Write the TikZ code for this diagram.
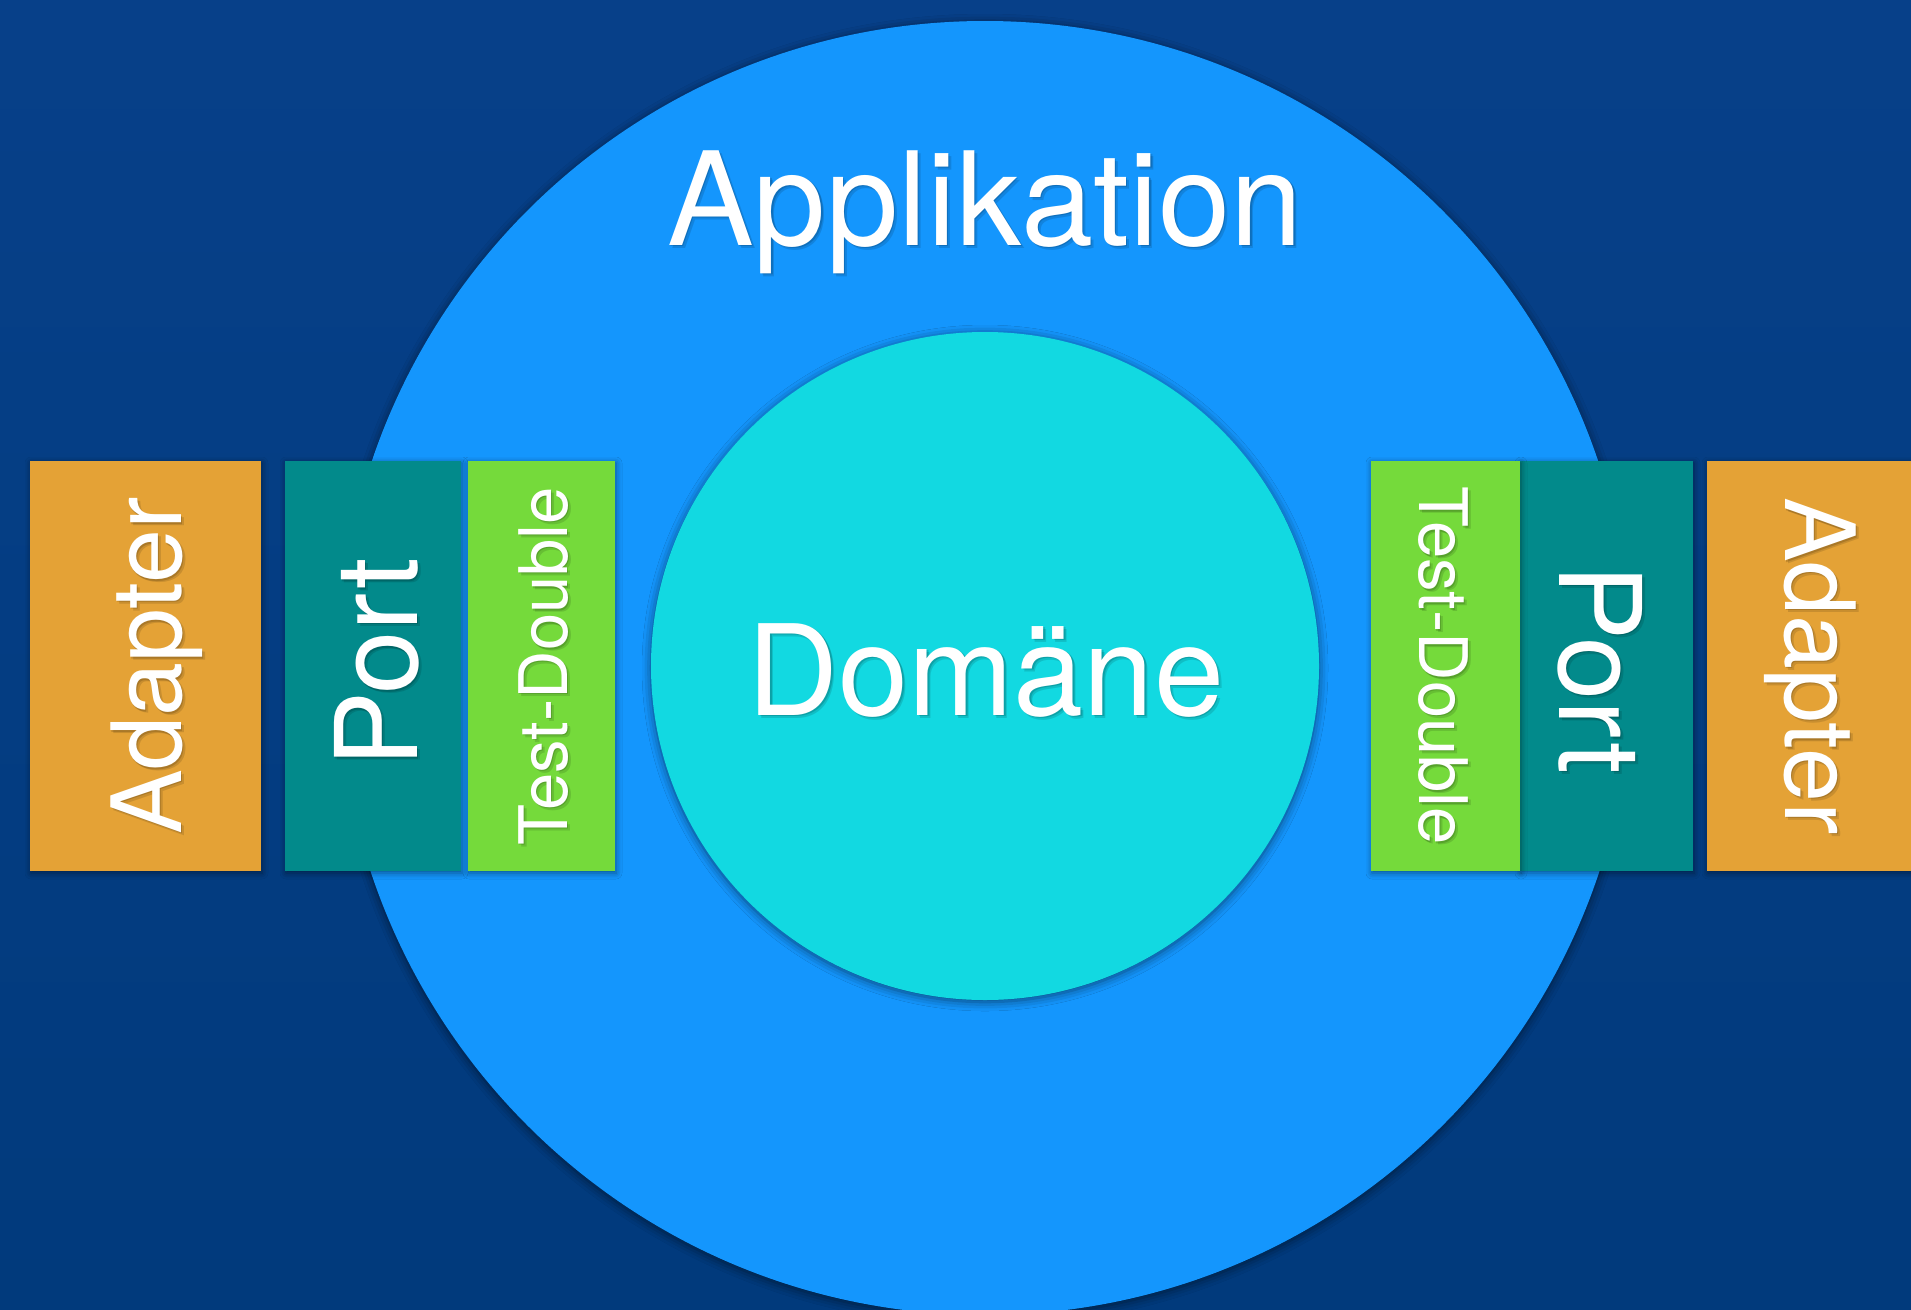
\documentclass[tikz,border=0pt]{standalone}
\usepackage{fontspec}
\setmainfont{TeX Gyre Heros}
\usetikzlibrary{positioning,calc,shadows.blur}

\definecolor{bgtop}{HTML}{074089}
\definecolor{bgbot}{HTML}{013A7C}
\definecolor{appblue}{HTML}{1496FD}
\definecolor{domcyan}{HTML}{12D9E1}
\definecolor{adapterorange}{HTML}{E4A236}
\definecolor{portteal}{HTML}{028A8B}
\definecolor{testgreen}{HTML}{75DA3B}

\newcommand{\fsz}[1]{\fontsize{#1}{#1}\selectfont}

\tikzset{
  ring shadow/.style={blur shadow={shadow xshift=0pt, shadow yshift=-2pt, shadow blur radius=9pt, shadow opacity=55}},
  block/.style={blur shadow={shadow xshift=1pt, shadow yshift=-2pt, shadow blur radius=6pt, shadow opacity=45},
    inner sep=0pt, outer sep=0pt, minimum height=410pt},
  lbl/.style={text=white, inner sep=0pt},
}

% name, base point, angle, size, text (with a soft dark copy behind)
\newcommand{\shlabel}[5]{%
  \node[lbl, text=black, text opacity=.12, anchor=base, rotate=#3, font=\fsz{#4}] at ($(#2)+(3pt,-3pt)$) {#5};
  \node[lbl, text=black, text opacity=.15, anchor=base, rotate=#3, font=\fsz{#4}] at ($(#2)+(1.5pt,-1.5pt)$) {#5};
  \node[lbl, anchor=base, rotate=#3, font=\fsz{#4}] (#1) at (#2) {#5};}

\begin{document}
\begin{tikzpicture}[x=1pt, y=-1pt]
\useasboundingbox (0,0) rectangle (1911,1309);
\shade[top color=bgtop, bottom color=bgbot] (0,0) rectangle (1911,1309);

% the two rings
\node[circle, fill=appblue, minimum size=1294pt, inner sep=0pt, ring shadow] (app) at (985,668) {};
\node[circle, fill=domcyan, minimum size=668pt, inner sep=0pt, ring shadow] (dom) at (985,666) {};
\shlabel{applbl}{985,245}{0}{130}{Applikation}
\shlabel{domlbl}{986,715}{0}{126}{Domäne}

% left side
\node[block, fill=adapterorange, minimum width=231pt] (adapterL) at (145.5,666) {};
\node[block, fill=portteal, minimum width=176pt, right=24pt of adapterL] (portL) {};
\node[block, fill=testgreen, minimum width=147pt, right=7pt of portL] (testL) {};
\shlabel{adapterLtxt}{181,666}{90}{97}{Adapter}
\shlabel{portLtxt}{417,663}{90}{114}{Port}
\shlabel{testLtxt}{567,666}{90}{67}{Test-Double}

% right side
\node[block, fill=adapterorange, minimum width=231pt] (adapterR) at (1822.5,666) {};
\node[block, fill=portteal, minimum width=173pt, left=14pt of adapterR] (portR) {};
\node[block, fill=testgreen, minimum width=149pt, left=0pt of portR] (testR) {};
\shlabel{testRtxt}{1419,666}{-90}{67}{Test-Double}
\shlabel{portRtxt}{1559,669}{-90}{114}{Port}
\shlabel{adapterRtxt}{1785,666}{-90}{97}{Adapter}
\end{tikzpicture}
\end{document}
